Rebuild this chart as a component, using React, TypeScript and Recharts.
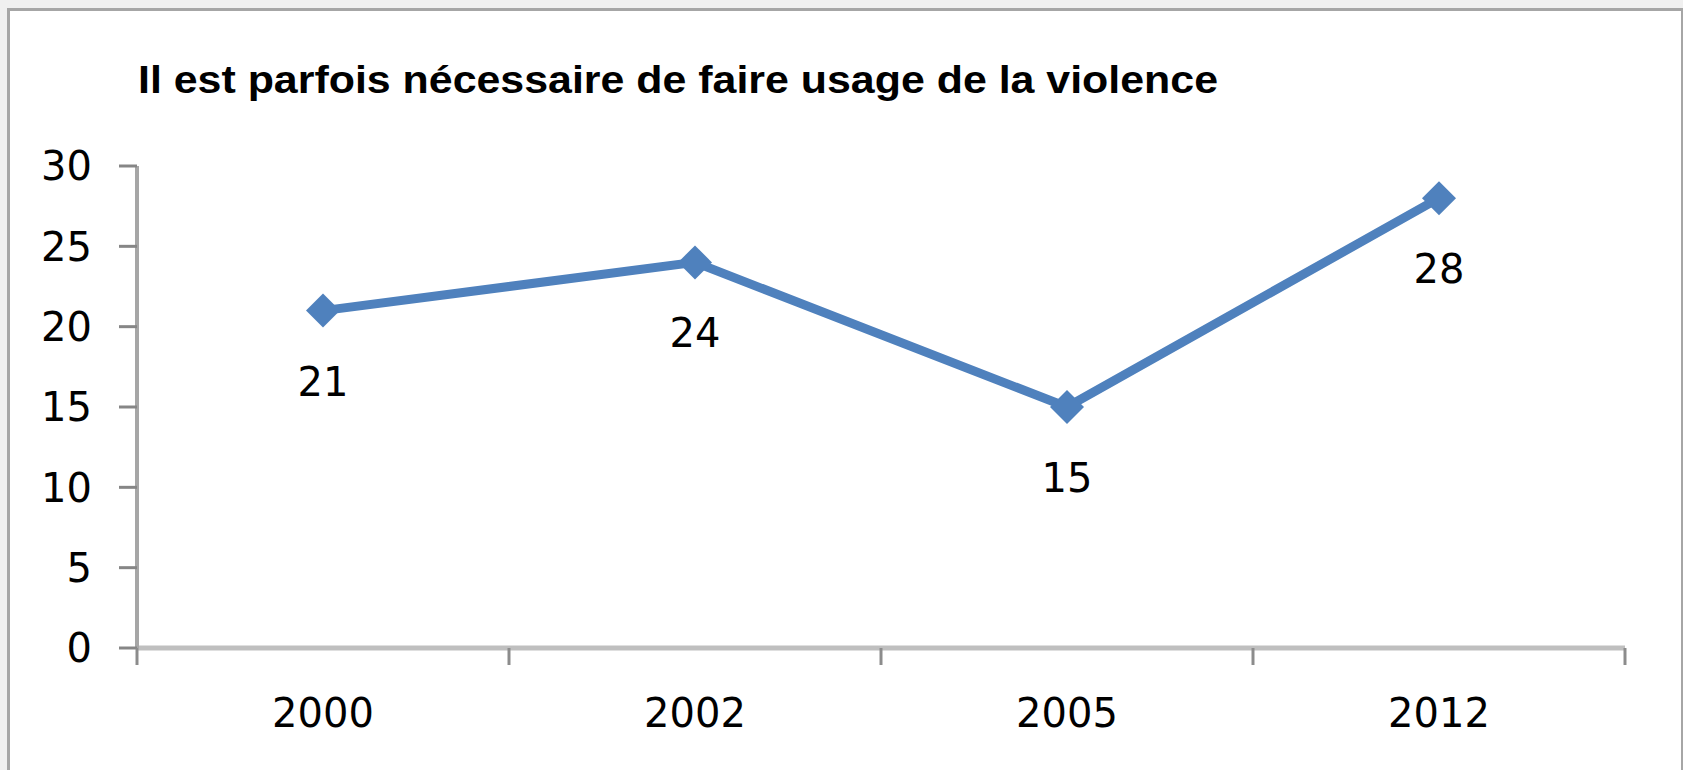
import { LineChart, Line, XAxis, YAxis, LabelList } from "recharts";

const years = ["2000", "2002", "2005", "2012"];
const shares = [21, 24, 15, 28];
const yTicks = [0, 5, 10, 15, 20, 25, 30];
const title = "Il est parfois nécessaire de faire usage de la violence";

const data = years.map((year, i) => ({ year, value: shares[i] }));

const W = 1683;
const H = 770;
const margin = { top: 166, right: 58, bottom: 22, left: 37 };
const yAxisWidth = 100;
const plotWidth = W - margin.left - margin.right - yAxisWidth;
const halfBand = plotWidth / years.length / 2;
const blue = "#4F81BD";
const font = "'DejaVu Sans', sans-serif";

function YearTick(props: any) {
  const { x, y, payload, index } = props;
  const isLast = index === years.length - 1;
  return (
    <g>
      <line x1={x - halfBand} x2={x - halfBand} y1={y} y2={y + 17} stroke="#8C8C8C" strokeWidth={3} />
      {isLast && <line x1={x + halfBand} x2={x + halfBand} y1={y} y2={y + 17} stroke="#8C8C8C" strokeWidth={3} />}
      <text x={x} y={y + 65} textAnchor="middle" dominantBaseline="central" fontSize={40} fontFamily={font} fill="#000">
        {payload.value}
      </text>
    </g>
  );
}

function Diamond(props: any) {
  const { cx, cy, index } = props;
  if (cx == null || cy == null) return <g key={index} />;
  const r = 17;
  return (
    <polygon
      key={index}
      points={`${cx},${cy - r} ${cx + r},${cy} ${cx},${cy + r} ${cx - r},${cy}`}
      fill={blue}
    />
  );
}

function ValueLabel(props: any) {
  const x = props.x ?? props.viewBox?.x;
  const y = props.y ?? props.viewBox?.y;
  return (
    <text x={x} y={y + 71} textAnchor="middle" dominantBaseline="central" fontSize={40} fontFamily={font} fill="#000">
      {props.value}
    </text>
  );
}

export default function App() {
  return (
    <div style={{ position: "absolute", top: 0, left: 0, width: W, height: H, overflow: "hidden", background: "#F0F0F0" }}>
      <div
        style={{
          position: "absolute",
          left: 7,
          top: 8,
          width: 1671,
          height: 800,
          border: "3px solid #A6A6A6",
          background: "#fff",
        }}
      />
      <div style={{ position: "absolute", top: 0, left: 0 }}>
        <LineChart width={W} height={H} data={data} margin={margin}>
          <XAxis
            dataKey="year"
            height={100}
            padding={{ left: halfBand, right: halfBand }}
            tickSize={0}
            tickMargin={0}
            axisLine={{ stroke: "#BFBFBF", strokeWidth: 5 }}
            tickLine={false}
            tick={<YearTick />}
            interval={0}
          />
          <YAxis
            width={yAxisWidth}
            domain={[0, 30]}
            ticks={yTicks}
            tickSize={18}
            tickMargin={27}
            axisLine={{ stroke: "#A6A6A6", strokeWidth: 4 }}
            tickLine={{ stroke: "#868686", strokeWidth: 3 }}
            tick={{ fontSize: 40, fontFamily: font, fill: "#000" }}
          />
          <Line
            dataKey="value"
            stroke={blue}
            strokeWidth={9}
            dot={Diamond}
            activeDot={false}
            isAnimationActive={false}
          >
            <LabelList dataKey="value" content={ValueLabel} />
          </Line>
        </LineChart>
      </div>
      <svg width={W} height={140} style={{ position: "absolute", top: 0, left: 0 }}>
        <text
          x={138}
          y={93}
          fontSize={38}
          fontWeight="bold"
          fontFamily="'Liberation Sans', sans-serif"
          textLength={1080}
          lengthAdjust="spacingAndGlyphs"
          fill="#000"
        >
          {title}
        </text>
      </svg>
    </div>
  );
}
